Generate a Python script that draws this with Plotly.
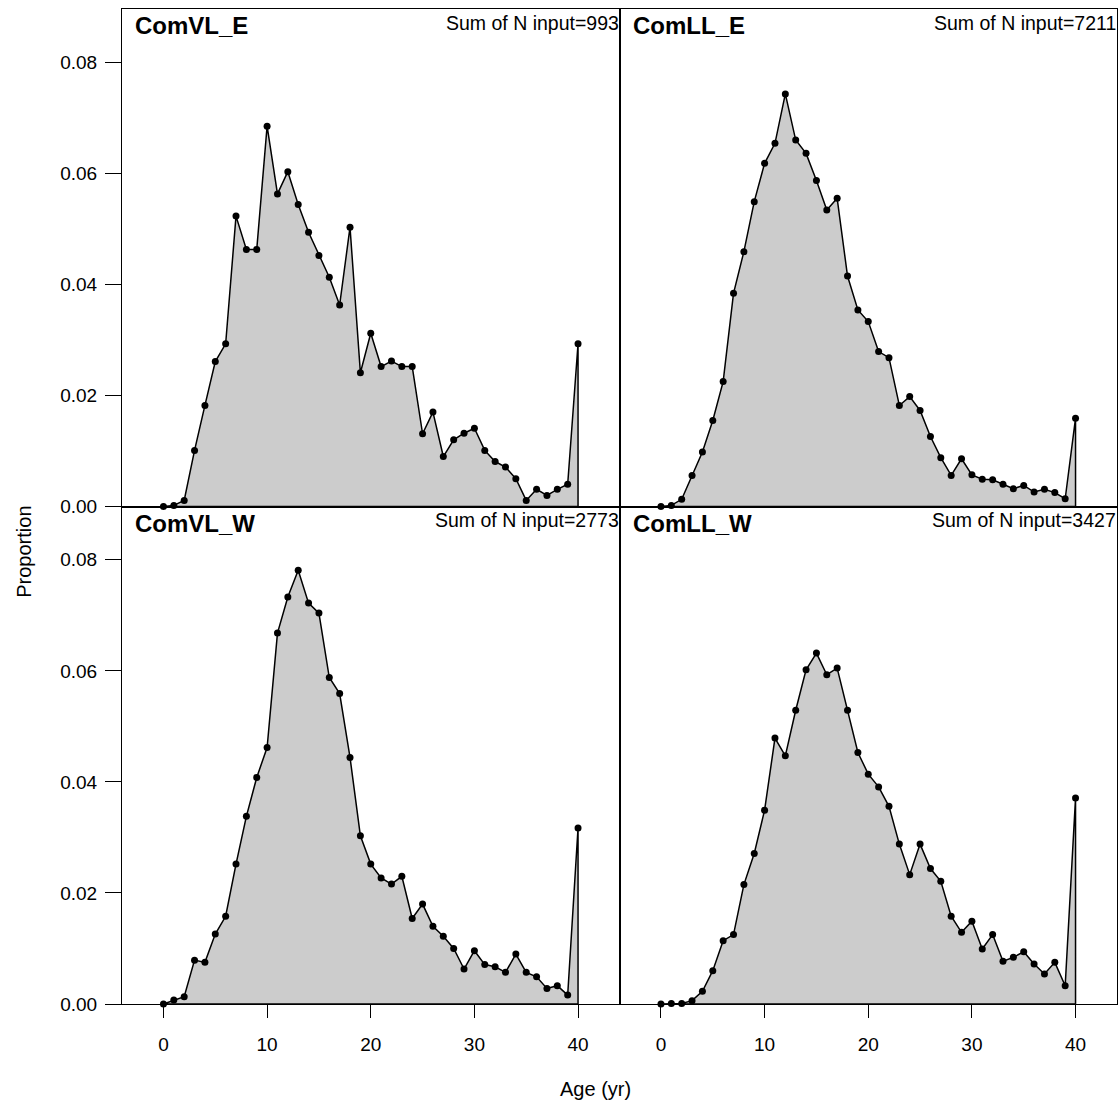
import plotly.graph_objects as go
from plotly.subplots import make_subplots

# Age classes shared by all four fleets
ages = list(range(41))

# Proportion at age for each fleet
comvl_e = [0.0, 0.0002, 0.0011, 0.0101, 0.0182, 0.0261, 0.0293,
           0.0523, 0.0463, 0.0463, 0.0685, 0.0563, 0.0603, 0.0544,
           0.0494, 0.0452, 0.0413, 0.0363, 0.0503, 0.0241, 0.0312,
           0.0252, 0.0262, 0.0252, 0.0252, 0.0131, 0.0170, 0.0090,
           0.0120, 0.0132, 0.0141, 0.0101, 0.0081, 0.0071, 0.0050,
           0.0011, 0.0031, 0.0020, 0.0031, 0.0040, 0.0293]
comll_e = [0.0, 0.0002, 0.0013, 0.0056, 0.0098, 0.0155, 0.0225,
           0.0384, 0.0459, 0.0549, 0.0618, 0.0654, 0.0743, 0.0660,
           0.0636, 0.0587, 0.0534, 0.0555, 0.0415, 0.0354, 0.0333,
           0.0279, 0.0268, 0.0182, 0.0198, 0.0173, 0.0126, 0.0088,
           0.0056, 0.0086, 0.0057, 0.0049, 0.0048, 0.0040, 0.0032,
           0.0038, 0.0026, 0.0031, 0.0025, 0.0014, 0.0159]
comvl_w = [0.0, 0.0007, 0.0013, 0.0079, 0.0075, 0.0126, 0.0158,
           0.0252, 0.0338, 0.0408, 0.0462, 0.0668, 0.0733, 0.0781,
           0.0722, 0.0704, 0.0588, 0.0559, 0.0444, 0.0303, 0.0252,
           0.0227, 0.0216, 0.0230, 0.0154, 0.0180, 0.0140, 0.0122,
           0.0100, 0.0063, 0.0096, 0.0071, 0.0067, 0.0057, 0.0090,
           0.0057, 0.0049, 0.0028, 0.0033, 0.0016, 0.0317]
comll_w = [0.0, 0.0001, 0.0001, 0.0006, 0.0023, 0.0060, 0.0114,
           0.0125, 0.0215, 0.0271, 0.0349, 0.0479, 0.0447, 0.0529,
           0.0602, 0.0632, 0.0593, 0.0605, 0.0529, 0.0453, 0.0414,
           0.0391, 0.0356, 0.0288, 0.0233, 0.0288, 0.0244, 0.0221,
           0.0158, 0.0129, 0.0149, 0.0099, 0.0125, 0.0077, 0.0084,
           0.0094, 0.0072, 0.0054, 0.0075, 0.0033, 0.0371]

fleet_names = ["ComVL_E", "ComLL_E", "ComVL_W", "ComLL_W"]
sample_sizes = [993, 7211, 2773, 3427]
fleet_values = [comvl_e, comll_e, comvl_w, comll_w]

y_tick_vals = [0.0, 0.02, 0.04, 0.06, 0.08]
y_tick_text = ["0.00", "0.02", "0.04", "0.06", "0.08"]
x_tick_vals = [0, 10, 20, 30, 40]

FONT = "Arial, Liberation Sans, Helvetica, sans-serif"

fig = make_subplots(rows=2, cols=2, horizontal_spacing=0, vertical_spacing=0)

positions = [(1, 1), (1, 2), (2, 1), (2, 2)]
for vals, (r, c) in zip(fleet_values, positions):
    # shaded polygon closed down to the baseline
    fig.add_trace(go.Scatter(
        x=ages + [ages[-1], ages[0]],
        y=vals + [0.0, 0.0],
        mode="lines", fill="toself", fillcolor="#CCCCCC",
        line=dict(color="black", width=1.5),
        hoverinfo="skip", showlegend=False,
    ), row=r, col=c)
    # points at each age
    fig.add_trace(go.Scatter(
        x=ages, y=vals, mode="markers",
        marker=dict(color="black", size=7),
        cliponaxis=False, showlegend=False,
    ), row=r, col=c)

axis_common = dict(showline=True, mirror=True, linecolor="black", linewidth=1,
                   showgrid=False, zeroline=False)

for (r, c) in positions:
    fig.update_xaxes(range=[-4, 44], **axis_common, row=r, col=c,
                     tickvals=x_tick_vals,
                     ticks="outside" if r == 2 else "",
                     ticklen=13, tickcolor="black", tickwidth=1,
                     showticklabels=(r == 2),
                     tickfont=dict(family=FONT, size=19, color="black"),
                     ticklabelstandoff=10)
    fig.update_yaxes(range=[0, 0.0896], **axis_common, row=r, col=c,
                     tickvals=y_tick_vals, ticktext=y_tick_text,
                     ticks="outside" if c == 1 else "",
                     ticklen=16, tickcolor="black", tickwidth=1,
                     showticklabels=(c == 1),
                     tickfont=dict(family=FONT, size=19, color="black"),
                     ticklabelstandoff=4)

# panel labels
axis_ids = ["", "2", "3", "4"]
for name, n, ax in zip(fleet_names, sample_sizes, axis_ids):
    fig.add_annotation(text=f"<b>{name}</b>", xref=f"x{ax} domain", yref=f"y{ax} domain",
                       x=0, y=1, xanchor="left", yanchor="middle",
                       xshift=11, yshift=-16.5, showarrow=False,
                       font=dict(family=FONT, size=24, color="black"))
    fig.add_annotation(text=f"Sum of N input={n}", xref=f"x{ax} domain", yref=f"y{ax} domain",
                       x=1, y=1, xanchor="right", yanchor="middle",
                       xshift=1, yshift=-13.5, showarrow=False,
                       font=dict(family=FONT, size=19.5, color="black"))

# outer axis titles
fig.add_annotation(text="Age (yr)", xref="paper", yref="paper",
                   x=0.476, y=-0.085, xanchor="center", yanchor="middle",
                   showarrow=False, font=dict(family=FONT, size=20, color="black"))
fig.add_annotation(text="Proportion", xref="paper", yref="paper",
                   x=-0.098, y=0.455, xanchor="center", yanchor="middle",
                   textangle=-90, showarrow=False,
                   font=dict(family=FONT, size=20, color="black"))

fig.update_layout(
    width=1118, height=1100,
    margin=dict(l=122, r=1, t=9, b=96),
    plot_bgcolor="white", paper_bgcolor="white",
    showlegend=False,
)

fig.write_html("out.html")
